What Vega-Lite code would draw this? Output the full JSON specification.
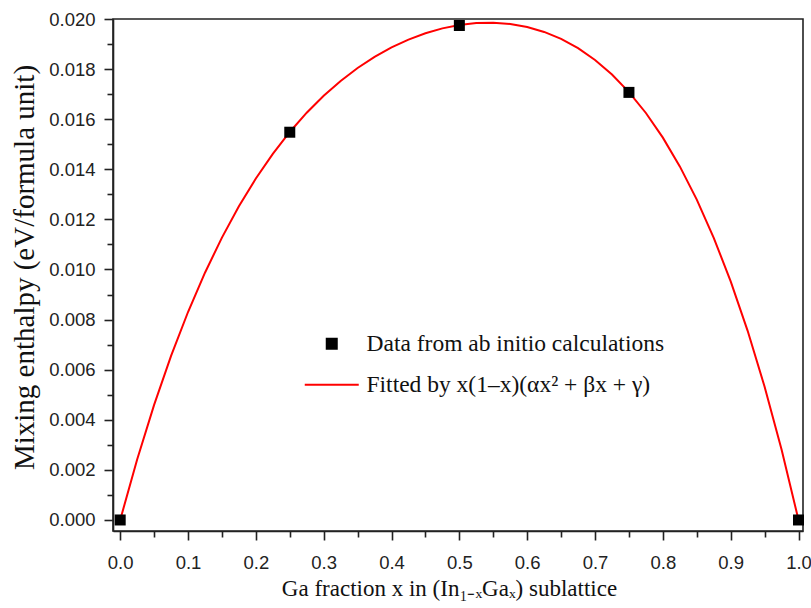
{
  "$schema": "https://vega.github.io/schema/vega-lite/v6.json",
  "width": 690,
  "height": 512,
  "autosize": "none",
  "padding": {"left": 113, "top": 19, "right": 8, "bottom": 77},
  "background": "white",
  "config": {
    "view": {"stroke": "#222222", "strokeWidth": 1.6},
    "axis": {
      "grid": false,
      "domainColor": "#222222",
      "domainWidth": 1.6,
      "tickColor": "#222222",
      "tickWidth": 1.6,
      "labelFont": "Liberation Sans",
      "labelFontSize": 18.5,
      "labelColor": "#222222",
      "titleFont": "Liberation Serif",
      "titleFontWeight": "normal",
      "titleColor": "#111111"
    }
  },
  "datasets": {
    "pts": [
      {"x": 0.0, "y": 0.0, "series": "Data from ab initio calculations"},
      {"x": 0.25, "y": 0.01548, "series": "Data from ab initio calculations"},
      {"x": 0.5, "y": 0.01974, "series": "Data from ab initio calculations"},
      {"x": 0.75, "y": 0.01707, "series": "Data from ab initio calculations"},
      {"x": 1.0, "y": 0.0, "series": "Data from ab initio calculations"}
    ],
    "fit": [
      {"x": 0.0, "y": 0.0, "series": "Fitted by x(1–x)(αx² + βx + γ)"},
      {"x": 0.025, "y": 0.0024175, "series": "Fitted by x(1–x)(αx² + βx + γ)"},
      {"x": 0.05, "y": 0.0045938, "series": "Fitted by x(1–x)(αx² + βx + γ)"},
      {"x": 0.075, "y": 0.0065492, "series": "Fitted by x(1–x)(αx² + βx + γ)"},
      {"x": 0.1, "y": 0.0083025, "series": "Fitted by x(1–x)(αx² + βx + γ)"},
      {"x": 0.125, "y": 0.0098714, "series": "Fitted by x(1–x)(αx² + βx + γ)"},
      {"x": 0.15, "y": 0.0112726, "series": "Fitted by x(1–x)(αx² + βx + γ)"},
      {"x": 0.175, "y": 0.0125214, "series": "Fitted by x(1–x)(αx² + βx + γ)"},
      {"x": 0.2, "y": 0.013632, "series": "Fitted by x(1–x)(αx² + βx + γ)"},
      {"x": 0.225, "y": 0.0146175, "series": "Fitted by x(1–x)(αx² + βx + γ)"},
      {"x": 0.25, "y": 0.0154898, "series": "Fitted by x(1–x)(αx² + βx + γ)"},
      {"x": 0.275, "y": 0.0162596, "series": "Fitted by x(1–x)(αx² + βx + γ)"},
      {"x": 0.3, "y": 0.0169365, "series": "Fitted by x(1–x)(αx² + βx + γ)"},
      {"x": 0.325, "y": 0.0175287, "series": "Fitted by x(1–x)(αx² + βx + γ)"},
      {"x": 0.35, "y": 0.0180436, "series": "Fitted by x(1–x)(αx² + βx + γ)"},
      {"x": 0.375, "y": 0.018487, "series": "Fitted by x(1–x)(αx² + βx + γ)"},
      {"x": 0.4, "y": 0.018864, "series": "Fitted by x(1–x)(αx² + βx + γ)"},
      {"x": 0.425, "y": 0.0191781, "series": "Fitted by x(1–x)(αx² + βx + γ)"},
      {"x": 0.45, "y": 0.0194318, "series": "Fitted by x(1–x)(αx² + βx + γ)"},
      {"x": 0.475, "y": 0.0196266, "series": "Fitted by x(1–x)(αx² + βx + γ)"},
      {"x": 0.5, "y": 0.0197625, "series": "Fitted by x(1–x)(αx² + βx + γ)"},
      {"x": 0.525, "y": 0.0198385, "series": "Fitted by x(1–x)(αx² + βx + γ)"},
      {"x": 0.55, "y": 0.0198526, "series": "Fitted by x(1–x)(αx² + βx + γ)"},
      {"x": 0.575, "y": 0.0198012, "series": "Fitted by x(1–x)(αx² + βx + γ)"},
      {"x": 0.6, "y": 0.01968, "series": "Fitted by x(1–x)(αx² + βx + γ)"},
      {"x": 0.625, "y": 0.0194831, "series": "Fitted by x(1–x)(αx² + βx + γ)"},
      {"x": 0.65, "y": 0.0192038, "series": "Fitted by x(1–x)(αx² + βx + γ)"},
      {"x": 0.675, "y": 0.018834, "series": "Fitted by x(1–x)(αx² + βx + γ)"},
      {"x": 0.7, "y": 0.0183645, "series": "Fitted by x(1–x)(αx² + βx + γ)"},
      {"x": 0.725, "y": 0.0177849, "series": "Fitted by x(1–x)(αx² + βx + γ)"},
      {"x": 0.75, "y": 0.0170836, "series": "Fitted by x(1–x)(αx² + βx + γ)"},
      {"x": 0.775, "y": 0.0162479, "series": "Fitted by x(1–x)(αx² + βx + γ)"},
      {"x": 0.8, "y": 0.015264, "series": "Fitted by x(1–x)(αx² + βx + γ)"},
      {"x": 0.825, "y": 0.0141167, "series": "Fitted by x(1–x)(αx² + βx + γ)"},
      {"x": 0.85, "y": 0.0127898, "series": "Fitted by x(1–x)(αx² + βx + γ)"},
      {"x": 0.875, "y": 0.011266, "series": "Fitted by x(1–x)(αx² + βx + γ)"},
      {"x": 0.9, "y": 0.0095265, "series": "Fitted by x(1–x)(αx² + βx + γ)"},
      {"x": 0.925, "y": 0.0075517, "series": "Fitted by x(1–x)(αx² + βx + γ)"},
      {"x": 0.95, "y": 0.0053206, "series": "Fitted by x(1–x)(αx² + βx + γ)"},
      {"x": 0.975, "y": 0.0028111, "series": "Fitted by x(1–x)(αx² + βx + γ)"},
      {"x": 1.0, "y": 0.0, "series": "Fitted by x(1–x)(αx² + βx + γ)"}
    ]
  },
  "layer": [
    {
      "data": {"name": "fit"},
      "mark": {"type": "line", "strokeWidth": 2},
      "encoding": {
        "x": {
          "field": "x", "type": "quantitative",
          "scale": {"domain": [-0.0106, 1.0066], "nice": false, "zero": false},
          "axis": {
            "orient": "bottom",
            "values": [0, 0.1, 0.2, 0.3, 0.4, 0.5, 0.6, 0.7, 0.8, 0.9, 1.0],
            "format": ".1f",
            "tickSize": 9,
            "labelPadding": 13,
            "title": "Ga fraction x in (In₁₋ₓGaₓ) sublattice",
            "titleFontSize": 23,
            "titlePadding": 6,
            "titleX": 336
          }
        },
        "y": {
          "field": "y", "type": "quantitative",
          "scale": {"domain": [-0.00044, 0.02], "nice": false, "zero": false},
          "axis": {
            "orient": "left",
            "values": [0, 0.002, 0.004, 0.006, 0.008, 0.01, 0.012, 0.014, 0.016, 0.018, 0.02],
            "format": ".3f",
            "tickSize": 9,
            "labelPadding": 9,
            "title": "Mixing enthalpy (eV/formula unit)",
            "titleFontSize": 29,
            "titlePadding": 9,
            "titleY": 248
          }
        },
        "color": {
          "field": "series", "type": "nominal",
          "scale": {
            "domain": ["Data from ab initio calculations", "Fitted by x(1–x)(αx² + βx + γ)"],
            "range": ["#000000", "#ff0000"]
          },
          "legend": {
            "title": null,
            "orient": "none",
            "legendX": 207,
            "legendY": 313,
            "padding": 0,
            "symbolSize": 100,
            "symbolStrokeWidth": 2,
            "labelFont": "Liberation Serif",
            "labelFontSize": 23.5,
            "labelColor": "#111111",
            "labelLimit": 600,
            "labelOffset": 23,
            "rowPadding": 16,
            "encode": {
              "symbols": {
                "update": {
                  "fill": {"scale": "color", "field": "value"},
                  "stroke": {"scale": "color", "field": "value"},
                  "strokeWidth": {"value": 2},
                  "opacity": {"value": 1}
                }
              }
            }
          }
        }
      }
    },
    {
      "data": {"name": "pts"},
      "mark": {"type": "point", "filled": true, "size": 121, "opacity": 1},
      "encoding": {
        "x": {
          "field": "x", "type": "quantitative",
          "axis": {
            "orient": "bottom",
            "values": [0.05, 0.15, 0.25, 0.35, 0.45, 0.55, 0.65, 0.75, 0.85, 0.95],
            "labels": false,
            "domain": false,
            "tickSize": 6,
            "title": null
          }
        },
        "y": {
          "field": "y", "type": "quantitative",
          "axis": {
            "orient": "left",
            "values": [0.001, 0.003, 0.005, 0.007, 0.009, 0.011, 0.013, 0.015, 0.017, 0.019],
            "labels": false,
            "domain": false,
            "tickSize": 6,
            "title": null
          }
        },
        "color": {"field": "series", "type": "nominal"},
        "shape": {
          "field": "series", "type": "nominal",
          "scale": {
            "domain": ["Data from ab initio calculations", "Fitted by x(1–x)(αx² + βx + γ)"],
            "range": ["square", "M-5.4,0H5.4"]
          }
        }
      }
    }
  ],
  "resolve": {"axis": {"x": "independent", "y": "independent"}}
}
